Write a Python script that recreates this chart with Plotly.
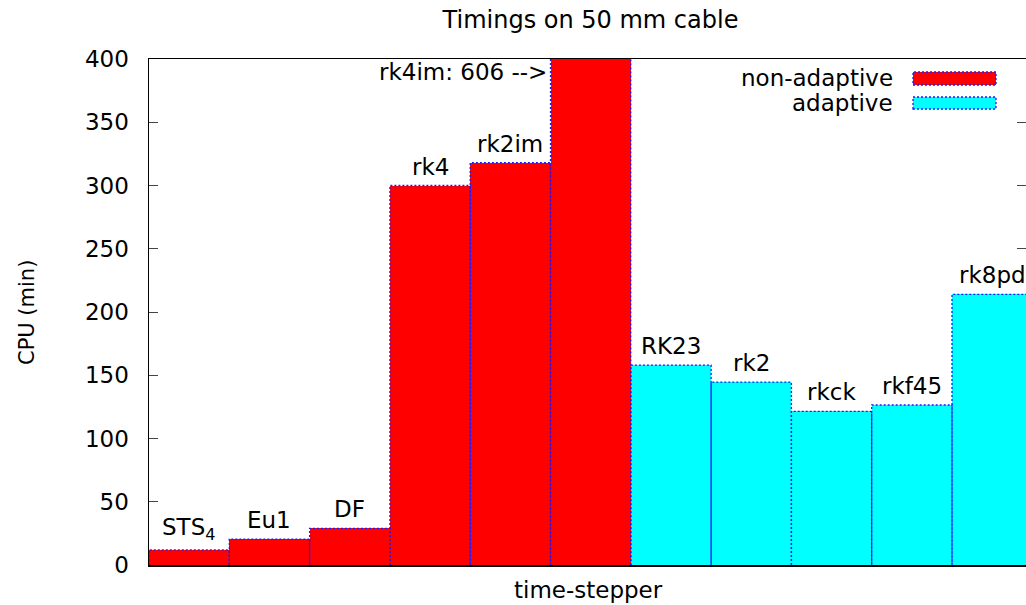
import plotly.graph_objects as go

# ---- data ----
nonadaptive_names = ["STS<sub>4</sub>", "Eu1", "DF", "rk4", "rk2im", "rk4im"]
nonadaptive_cpu = [12, 20.5, 29, 300, 318, 606]
adaptive_names = ["RK23", "rk2", "rkck", "rkf45", "rk8pd"]
adaptive_cpu = [158, 144.5, 121.5, 126.5, 214]
y_ticks = [0, 50, 100, 150, 200, 250, 300, 350, 400]

title_text = "Timings on 50 mm cable"
x_title = "time-stepper"
y_title = "CPU (min)"

# ---- layout geometry (pixels) ----
W, H = 1026, 605
L, T, B = 149, 59, 40
plot_w = W - L
plot_h = H - T - B
ymax = 400
px_per_bar = 80.3
x_lo = -0.5
x_hi = x_lo + plot_w / px_per_bar

FONT = "DejaVu Sans"
FS = 23

RED = "#ff0000"
CYAN = "#00ffff"
EDGE = "#1a1aff"

fig = go.Figure()

n_non = len(nonadaptive_cpu)
x_non = list(range(n_non))
x_ad = list(range(n_non, n_non + len(adaptive_cpu)))


def outline(xs, ys):
    ox, oy = [], []
    for xv, yv in zip(xs, ys):
        ox += [xv - 0.5, xv - 0.5, xv + 0.5, xv + 0.5, None]
        oy += [0, yv, yv, 0, None]
    return ox, oy


fig.add_trace(go.Bar(x=x_non, y=nonadaptive_cpu, width=1, name="non-adaptive",
                     marker=dict(color=RED, line=dict(width=0)), hoverinfo="skip"))
fig.add_trace(go.Bar(x=x_ad, y=adaptive_cpu, width=1, name="adaptive",
                     marker=dict(color=CYAN, line=dict(width=0)), hoverinfo="skip"))

for xs, ys in [(x_non, nonadaptive_cpu), (x_ad, adaptive_cpu)]:
    ox, oy = outline(xs, ys)
    fig.add_trace(go.Scatter(x=ox, y=oy, mode="lines", hoverinfo="skip",
                             line=dict(color=EDGE, width=1.3, dash="2px,2px"),
                             showlegend=False))

# empty trace so the right-hand tick axis is drawn
fig.add_trace(go.Scatter(x=[], y=[], yaxis="y2", showlegend=False, hoverinfo="skip"))

annotations = []
for xv, yv, nm in zip(x_non + x_ad, nonadaptive_cpu + adaptive_cpu,
                      nonadaptive_names + adaptive_names):
    if yv > ymax:
        annotations.append(dict(x=xv - 0.5, y=ymax, xref="x", yref="y",
                                text=f"{nm}: {yv:g} -->", showarrow=False,
                                xanchor="right", yanchor="top", xshift=-2, yshift=2,
                                font=dict(family=FONT, size=FS, color="black")))
    else:
        annotations.append(dict(x=xv, y=yv, xref="x", yref="y", text=nm,
                                showarrow=False, xanchor="center", yanchor="bottom",
                                yshift=4, font=dict(family=FONT, size=FS, color="black")))


def px_x(p):
    return (p - L) / plot_w


def px_y(p):
    return (H - B - p) / plot_h


# axis titles
annotations.append(dict(x=px_x(588), y=px_y(590), xref="paper", yref="paper",
                        text=x_title, showarrow=False, xanchor="center", yanchor="middle",
                        font=dict(family=FONT, size=FS, color="black")))
annotations.append(dict(x=px_x(27), y=px_y(313), xref="paper", yref="paper",
                        text=y_title, showarrow=False, textangle=-90,
                        xanchor="center", yanchor="middle",
                        font=dict(family=FONT, size=21, color="black")))

# legend (gnuplot style: text then swatch)
shapes = []
legend_items = [("non-adaptive", RED, 78, 72, 85), ("adaptive", CYAN, 103, 97, 109)]
for name, col, ty, y0, y1 in legend_items:
    annotations.append(dict(x=px_x(895), y=px_y(ty), xref="paper", yref="paper",
                            text=name, showarrow=False, xanchor="right", yanchor="middle",
                            font=dict(family=FONT, size=FS, color="black")))
    shapes.append(dict(type="rect", xref="paper", yref="paper",
                       x0=px_x(913), x1=px_x(996), y0=px_y(y1), y1=px_y(y0),
                       fillcolor=col, line=dict(color=EDGE, width=1.3, dash="2px,2px")))

fig.update_layout(
    width=W, height=H,
    margin=dict(l=L, r=0, t=T, b=B, pad=0),
    paper_bgcolor="white", plot_bgcolor="white",
    showlegend=False, bargap=0,
    title=dict(text=title_text, x=px_x(590.5), xref="paper", xanchor="center",
               y=1 - 20 / H, yref="container", yanchor="middle",
               font=dict(family=FONT, size=24, color="black")),
    annotations=annotations, shapes=shapes,
    font=dict(family=FONT, size=FS, color="black"),
    yaxis2=dict(overlaying="y", side="right", range=[0, ymax], tickvals=y_ticks,
                ticks="inside", ticklen=9, tickcolor="#444", tickwidth=1,
                showticklabels=False, showgrid=False, zeroline=False, showline=False,
                layer="below traces"),
)
fig.update_xaxes(range=[x_lo, x_hi], showticklabels=False, ticks="", showgrid=False,
                 zeroline=False, showline=True, linecolor="black", linewidth=1.5,
                 mirror=True, layer="below traces")
fig.update_yaxes(range=[0, ymax], tickvals=y_ticks, ticks="inside", ticklen=9,
                 tickcolor="#444", tickwidth=1, showgrid=False, zeroline=False,
                 showline=True, linecolor="black", linewidth=1.5, mirror=False,
                 ticklabelstandoff=14, layer="below traces",
                 tickfont=dict(family=FONT, size=FS, color="black"), selector=dict())
fig.layout.yaxis.mirror = False

fig.write_html("out.html", config={"displayModeBar": False, "staticPlot": True},
               post_script="document.body.style.margin='0';document.body.style.overflow='hidden';")
